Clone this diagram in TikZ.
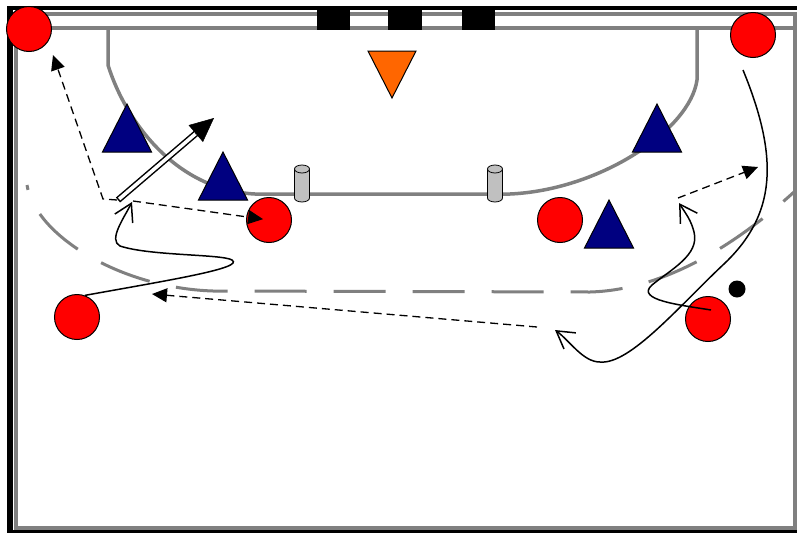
\documentclass[tikz,border=0pt]{standalone}
\usepackage{tikz}
\usetikzlibrary{arrows.meta,shapes.geometric,calc}
\definecolor{CourtGray}{HTML}{808080}
\definecolor{AttackRed}{HTML}{FF0000}
\definecolor{DefenceNavy}{HTML}{000080}
\definecolor{KeeperOrange}{HTML}{FF6600}
\definecolor{ConeGray}{HTML}{C0C0C0}

\begin{document}
\begin{tikzpicture}[
  x=1pt, y=-1pt,
  court/.style={draw=CourtGray, line width=3.5pt},
  nine/.style={draw=CourtGray, line width=3pt, dash pattern=on 52pt off 27pt, dash phase=47pt},
  attacker/.style={circle, draw=black, line width=1pt, fill=AttackRed,
                   minimum size=45pt, inner sep=0pt},
  defender/.style={isosceles triangle, isosceles triangle stretches, shape border rotate=90,
                   draw=black, line width=1pt, fill=DefenceNavy, minimum width=49pt,
                   minimum height=48pt, inner sep=0pt, outer sep=0pt, anchor=apex},
  keeper/.style={defender, fill=KeeperOrange, shape border rotate=270,
                 minimum width=48pt, minimum height=47pt},
  conebody/.style={draw=black, line width=0.8pt, fill=ConeGray},
  ball/.style={circle, fill=black, minimum size=17pt, inner sep=0pt},
  pass/.style={line width=1.3pt, dash pattern=on 8pt off 5pt,
               -{Triangle[length=15pt,width=14pt]}},
  run/.style={line width=1.5pt, -{Straight Barb[length=17pt,width=20pt]}},
  shotout/.style={line width=6.5pt, shorten >=22pt},
  shotin/.style={white, line width=3.5pt, shorten >=23.5pt, shorten <=1.5pt},
  shottip/.style={line width=0.5pt, -{Triangle[length=24pt,width=22pt]}}
]
\useasboundingbox (0,0) rectangle (797,533);
\fill[white] (0,0) rectangle (797,533);
\draw[draw=CourtGray, line width=4pt] (15.5,14) rectangle (794.5,527.5);
\draw[line width=4pt] (7,8) -- (797,8);
\draw[line width=6pt] (10,6) -- (10,533);
\draw[line width=3.5pt] (7,531.5) -- (797,531.5);
\draw[court] (13,28) -- (794,28);
\fill (317,8) rectangle (350,30);
\fill (388,8) rectangle (422,30);
\fill (462,8) rectangle (495,30);
\draw[court] (108,28) -- (108,65) .. controls (125,120) and (175,190) .. (255,194)
  -- (510,194) .. controls (600,190) and (690,130) .. (697,80) -- (697,28);
\draw[nine] (27,185) .. controls (35,235) and (120,288) .. (213,291) -- (590,292)
  .. controls (660,290) and (730,250) .. (794,192);

\coordinate (c1) at (302,169);
\coordinate (c2) at (495,169);
\foreach \c in {c1,c2} {
  \filldraw[conebody] ($(\c)+(-7.5,0)$) -- ++(0,29)
    arc[start angle=180, end angle=0, x radius=7.5, y radius=4] -- ++(0,-29) -- cycle;
  \filldraw[conebody] (\c) ellipse [x radius=7.5, y radius=4];
}

\node[attacker] (p1) at (29,29) {};
\node[attacker] (p2) at (753,35) {};
\node[attacker] (p3) at (269,220) {};
\node[attacker] (p4) at (560,220) {};
\node[attacker] (p5) at (77,317) {};
\node[attacker] (p6) at (708,319) {};
\node[ball] (ball) at (737,289) {};
\node[defender] (d1) at (127,104) {};
\node[defender] (d2) at (223,152) {};
\node[defender] (d3) at (657,104) {};
\node[defender] (d4) at (609,200) {};
\node[keeper] (gk) at (392,98) {};

\coordinate (k1) at (117,200);
\coordinate (k2) at (103,199);
\coordinate (k3) at (53,55);
\coordinate (b0) at (133,201);
\coordinate (e0) at (537,327);
\coordinate (e1) at (152,294);
\coordinate (g0) at (678,198);
\coordinate (g1) at (758,167);
\coordinate (shotA) at (118,200);
\coordinate (shotB) at (214,118);
\coordinate (r1) at (132,202);
\coordinate (f0) at (711,310);
\coordinate (f1) at (679,203);
\coordinate (h0) at (743,70);
\coordinate (h1) at (555,330);

\draw[pass] (k1) -- (k2) -- (k3);
\draw[pass, shorten >=6pt] (b0) -- (p3.center);
\draw[pass] (e0) -- (e1);
\draw[pass] (g0) -- (g1);
\draw[shotout] (shotA) -- (shotB);
\draw[shotin] (shotA) -- (shotB);
\draw[shottip] ($(shotB)!25pt!(shotA)$) -- (shotB);
\draw[run] (p5.70) .. controls (170,280) and (245,268) .. (232,260)
  .. controls (222,254) and (150,256) .. (120,246)
  .. controls (108,240) and (124,218) .. (r1);
\draw[run] (f0) .. controls (680,305) and (635,300) .. (652,285)
  .. controls (670,270) and (700,255) .. (694,232)
  .. controls (691,220) and (686,214) .. (f1);
\draw[run] (h0) .. controls (780,160) and (775,215) .. (725,263)
  .. controls (680,305) and (630,365) .. (600,362)
  .. controls (583,362) and (570,341) .. (h1);
\end{tikzpicture}
\end{document}
